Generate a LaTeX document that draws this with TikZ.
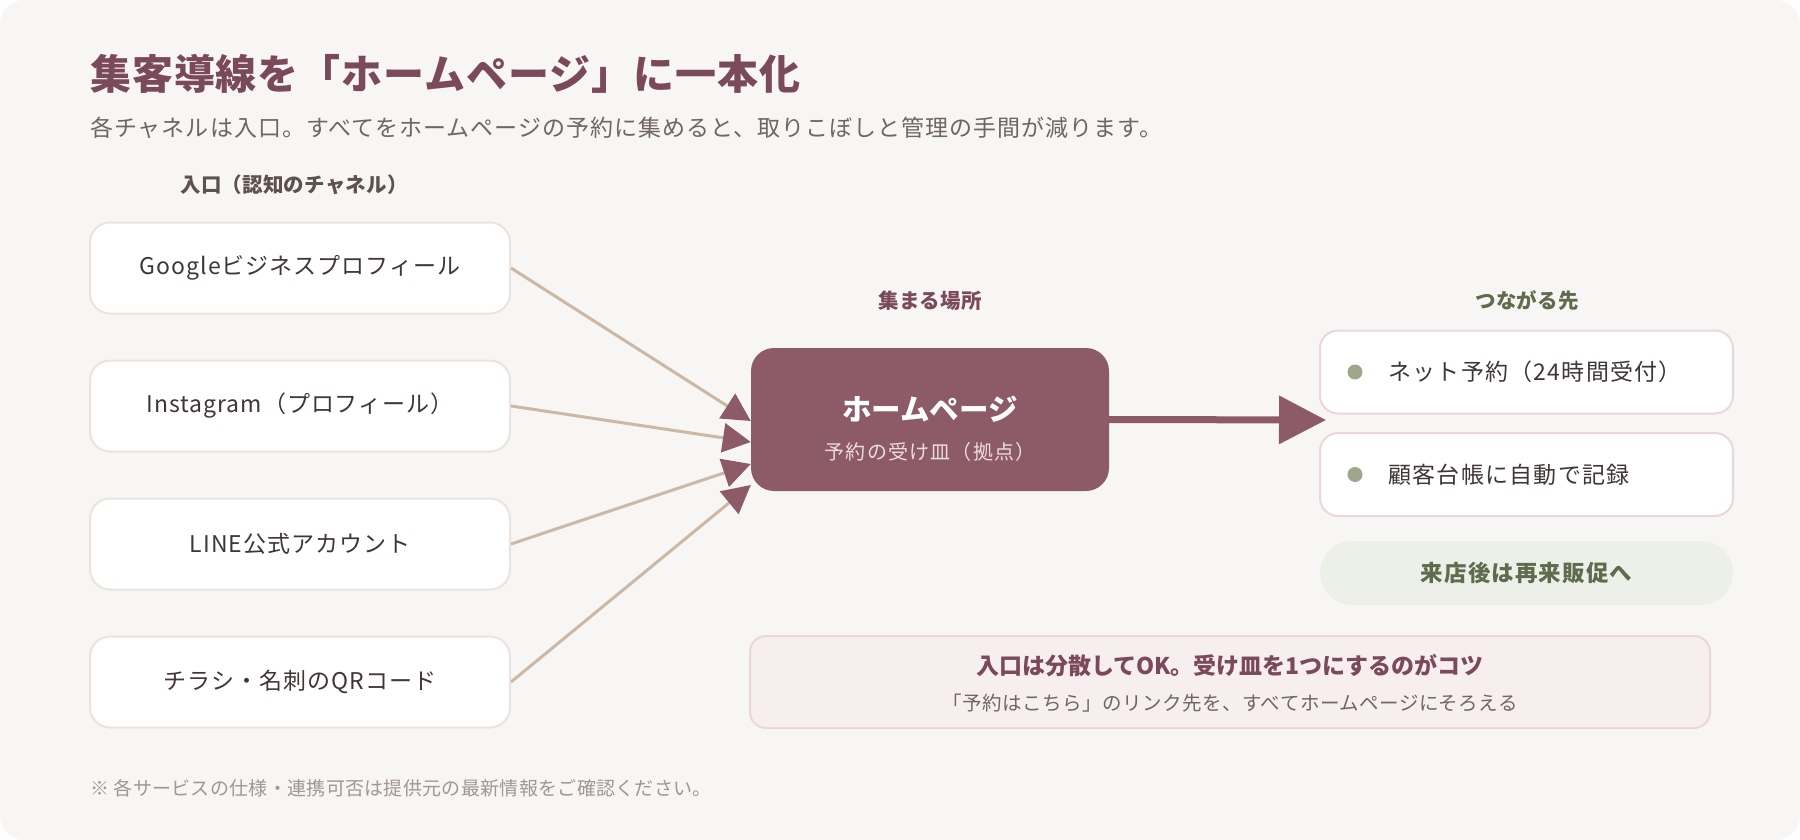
\documentclass[tikz,border=0pt]{standalone}
\usepackage{fontspec}
\setmainfont{Noto Sans CJK JP}
\usetikzlibrary{arrows.meta}
\definecolor{paper}{HTML}{F8F6F4}
\definecolor{ink}{HTML}{3F3735}
\definecolor{plum}{HTML}{8D5B68}
\definecolor{plumtext}{HTML}{7A4A5A}
\definecolor{tan}{HTML}{CBB8A5}
\definecolor{boxedge}{HTML}{EBE3DD}
\definecolor{pinkedge}{HTML}{EAD6DB}
\definecolor{pinkfill}{HTML}{F7EEEF}
\definecolor{sage}{HTML}{9CA78C}
\definecolor{olive}{HTML}{5E6C4D}
\definecolor{sagefill}{HTML}{EDF0E9}
\definecolor{muted}{HTML}{6F6562}
\definecolor{labelgray}{HTML}{5D514D}
\definecolor{faint}{HTML}{A09692}
\definecolor{hubsub}{HTML}{EBDCE0}
\newcommand{\fs}[2]{\fontsize{#1}{#1}\selectfont\addfontfeature{LetterSpace=#2}}
\tikzset{
  chan/.style={draw=boxedge, line width=2pt, fill=white, rounded corners=20pt,
    minimum width=420pt, minimum height=91pt, text=ink, font=\fs{23}{4.3}},
  dest/.style={draw=pinkedge, line width=2pt, fill=white, rounded corners=18pt,
    minimum width=413pt, minimum height=83pt},
  feed/.style={tan, line width=3pt, -{Triangle[length=28pt,width=29pt,color=plum]}},
  lbl/.style={inner sep=0pt, font=\bfseries\fs{20.5}{1}},
  txt/.style={inner sep=0pt, anchor=west},
}
\begin{document}
\begin{tikzpicture}[x=1pt,y=-1pt]
  \useasboundingbox (0,0) rectangle (1800,840);
  \fill[white] (0,0) rectangle (1800,840);
  \fill[paper, rounded corners=24pt] (0,0) rectangle (1800,840);
  \node[txt, text=plumtext, font=\bfseries\fs{41}{2.3}] (title) at (90,74) {集客導線を「ホームページ」に一本化};
  \node[txt, text=muted, font=\fs{23}{4.4}] (lead) at (90,127.5) {各チャネルは入口。すべてをホームページの予約に集めると、取りこぼしと管理の手間が減ります。};
  \node[lbl, text=labelgray] (inlabel) at (294,185) {入口（認知のチャネル）};
  \node[lbl, text=plumtext] (hublabel) at (930,301) {集まる場所};
  \node[lbl, text=olive] (outlabel) at (1527,301) {つながる先};
  \foreach \name [count=\i] in {Googleビジネスプロフィール, Instagram（プロフィール）, LINE公式アカウント, チラシ・名刺のQRコード}
    \node[chan] (ch\i) at (300,{268+138*(\i-1)}) {\name};
  \node[fill=plum, rounded corners=23pt, minimum width=358pt, minimum height=143pt] (hub) at (930,419.5) {};
  \node[inner sep=0pt, text=white, font=\bfseries\fs{29.5}{0}] (hubname) at (930,409) {ホームページ};
  \node[inner sep=0pt, text=hubsub, font=\fs{20}{6}] (hubrole) at (930,452) {予約の受け皿（拠点）};
  \foreach \i/\dy in {1/1.5,2/22.5,3/44.5,4/65.5}
    \draw[feed] (ch\i.east) -- ([yshift=-\dy pt]hub.west);
  \coordinate (nxt) at (1326,420);
  \draw[plum, line width=7pt, -{Triangle[length=47pt,width=47pt]}] (hub.east) -- (nxt);
  \node[dest] (web) at (1526.5,372) {};
  \node[dest] (log) at (1526.5,474.5) {};
  \foreach \b/\t in {web/ネット予約（24時間受付）, log/顧客台帳に自動で記録}{
    \fill[sage] ([xshift=36pt]\b.west) circle (7.5pt);
    \node[txt, text=ink, font=\fs{23}{5.5}] (\b text) at ([xshift=69pt]\b.west) {\t};
  }
  \node[fill=sagefill, rounded corners=32pt, minimum width=413pt, minimum height=64pt,
    text=olive, font=\bfseries\fs{22.5}{5}] (revisit) at (1526.5,573) {来店後は再来販促へ};
  \node[draw=pinkedge, line width=2pt, fill=pinkfill, rounded corners=16pt,
    minimum width=960pt, minimum height=92pt] (tip) at (1230,682) {};
  \node[inner sep=0pt, text=plumtext, font=\bfseries\fs{23}{0}] (tiphead) at (1230,666) {入口は分散してOK。受け皿を1つにするのがコツ};
  \node[inner sep=0pt, text=muted, font=\fs{19.5}{2.5}] (tipnote) at (1230,703) {「予約はこちら」のリンク先を、すべてホームページにそろえる};
  \node[txt, text=faint, font=\fs{19}{1.6}] (note) at (90,788) {※ 各サービスの仕様・連携可否は提供元の最新情報をご確認ください。};
\end{tikzpicture}
\end{document}
